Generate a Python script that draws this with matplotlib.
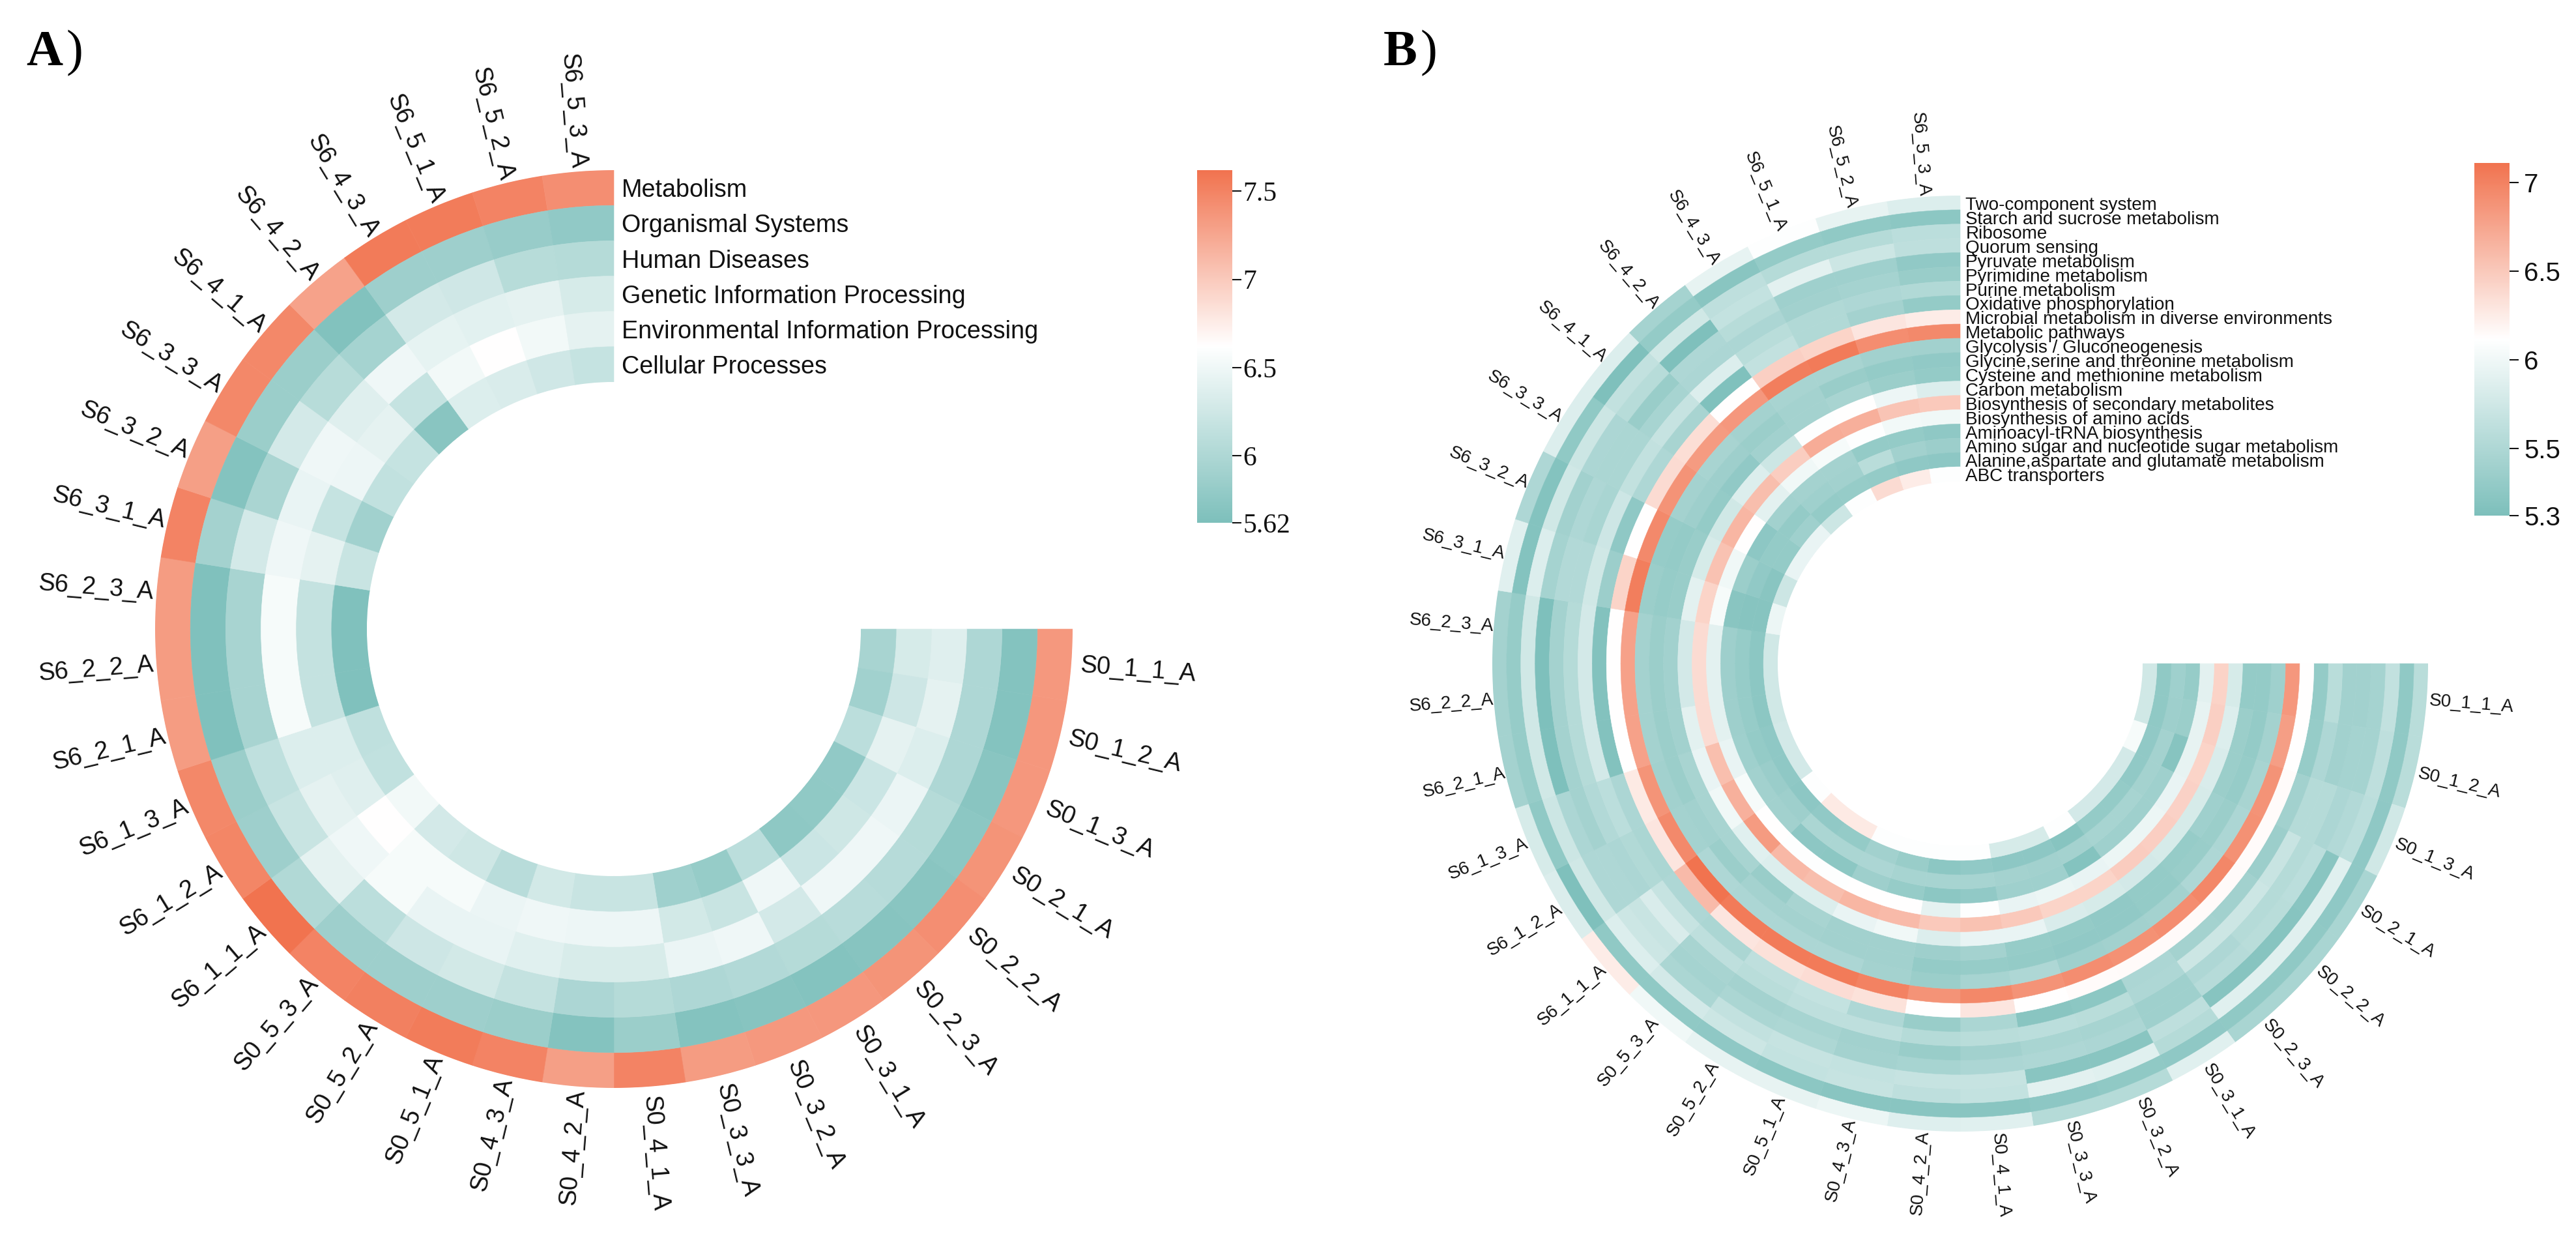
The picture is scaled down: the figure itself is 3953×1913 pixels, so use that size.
import numpy as np
import matplotlib
matplotlib.use('Agg')
import matplotlib.pyplot as plt
from matplotlib.cm import ScalarMappable
from matplotlib.colors import LinearSegmentedColormap, Normalize

W, H = 3953, 1913

samples = ['S0_1_1_A', 'S0_1_2_A', 'S0_1_3_A', 'S0_2_1_A', 'S0_2_2_A', 'S0_2_3_A',
           'S0_3_1_A', 'S0_3_2_A', 'S0_3_3_A', 'S0_4_1_A', 'S0_4_2_A', 'S0_4_3_A',
           'S0_5_1_A', 'S0_5_2_A', 'S0_5_3_A', 'S6_1_1_A', 'S6_1_2_A', 'S6_1_3_A',
           'S6_2_1_A', 'S6_2_2_A', 'S6_2_3_A', 'S6_3_1_A', 'S6_3_2_A', 'S6_3_3_A',
           'S6_4_1_A', 'S6_4_2_A', 'S6_4_3_A', 'S6_5_1_A', 'S6_5_2_A', 'S6_5_3_A']

# level 1 pathways, outer ring first
names_a = ['Metabolism', 'Organismal Systems', 'Human Diseases',
           'Genetic Information Processing', 'Environmental Information Processing',
           'Cellular Processes']
metabolism = [7.35, 7.36, 7.36, 7.38, 7.42, 7.38, 7.36, 7.35, 7.33, 7.5, 7.3, 7.5, 7.55, 7.52, 7.5,
              7.62, 7.48, 7.47, 7.33, 7.33, 7.33, 7.5, 7.3, 7.47, 7.47, 7.28, 7.56, 7.55, 7.5, 7.42]
organismal = [5.68, 5.68, 5.72, 5.74, 5.72, 5.7, 5.68, 5.7, 5.68, 5.85, 5.68, 5.85, 5.87, 5.87, 5.87,
              6.02, 5.87, 5.85, 5.65, 5.65, 5.65, 5.92, 5.68, 5.85, 5.85, 5.66, 5.87, 5.87, 5.83, 5.78]
human = [6.0, 6.0, 6.0, 6.05, 6.06, 6.08, 6.05, 6.03, 6.0, 6.05, 5.98, 6.17, 6.27, 6.23, 6.1,
         6.42, 6.2, 6.13, 5.95, 5.95, 5.95, 6.28, 5.97, 6.28, 6.07, 5.93, 6.28, 6.25, 6.07, 6.05]
genetic = [6.37, 6.42, 6.35, 6.47, 6.5, 6.5, 6.28, 6.5, 6.47, 6.32, 6.32, 6.38, 6.45, 6.45, 6.55,
           6.5, 6.42, 6.35, 6.55, 6.55, 6.55, 6.5, 6.45, 6.5, 6.37, 6.5, 6.43, 6.4, 6.42, 6.3]
environmental = [6.3, 6.23, 6.42, 6.22, 6.24, 6.22, 6.5, 6.2, 6.27, 6.48, 6.48, 6.5, 6.47, 6.55, 6.55,
                 6.62, 6.37, 6.35, 6.17, 6.17, 6.17, 6.42, 6.18, 6.48, 6.42, 6.18, 6.52, 6.62, 6.52, 6.42]
cellular = [5.95, 5.9, 6.1, 5.78, 5.77, 5.76, 6.1, 5.82, 5.88, 6.2, 6.2, 6.27, 6.08, 6.24, 6.28,
            6.52, 6.15, 6.13, 5.65, 5.65, 5.65, 6.2, 5.9, 6.15, 6.18, 5.72, 6.35, 6.33, 6.25, 6.18]
rings_a = [metabolism, organismal, human, genetic, environmental, cellular]

# level 3 pathways, outer ring first
names_b = ['Two-component system', 'Starch and sucrose metabolism', 'Ribosome', 'Quorum sensing',
           'Pyruvate metabolism', 'Pyrimidine metabolism', 'Purine metabolism',
           'Oxidative phosphorylation', 'Microbial metabolism in diverse environments',
           'Metabolic pathways', 'Glycolysis / Gluconeogenesis',
           'Glycine,serine and threonine metabolism', 'Cysteine and methionine metabolism',
           'Carbon metabolism', 'Biosynthesis of secondary metabolites',
           'Biosynthesis of amino acids', 'Aminoacyl-tRNA biosynthesis',
           'Amino sugar and nucleotide sugar metabolism',
           'Alanine,aspartate and glutamate metabolism', 'ABC transporters']
two_component = [5.58, 5.58, 5.75, 5.46, 5.46, 5.46, 5.88, 5.55, 5.55, 5.88, 5.86, 5.97, 5.93, 5.93, 6.0,
                 6.25, 5.84, 5.8, 5.42, 5.42, 5.42, 5.88, 5.5, 5.85, 5.85, 5.43, 5.93, 6.1, 5.93, 5.85]
starch = [5.27, 5.27, 5.26, 5.26, 5.27, 5.27, 5.26, 5.27, 5.25, 5.22, 5.22, 5.22, 5.24, 5.26, 5.27,
          5.27, 5.14, 5.27, 5.32, 5.32, 5.32, 5.18, 5.18, 5.27, 5.14, 5.3, 5.22, 5.3, 5.27, 5.24]
ribosome = [5.65, 5.62, 5.6, 5.88, 5.88, 5.88, 5.55, 5.88, 5.9, 5.66, 5.62, 5.68, 5.66, 5.72, 5.78,
            5.85, 5.75, 5.72, 5.75, 5.75, 5.75, 5.85, 5.75, 5.72, 5.65, 5.75, 5.62, 5.55, 5.55, 5.6]
quorum = [5.43, 5.43, 5.53, 5.22, 5.2, 5.2, 5.62, 5.22, 5.22, 5.68, 5.68, 5.66, 5.68, 5.65, 5.47,
          5.72, 5.5, 5.48, 5.13, 5.13, 5.13, 5.43, 5.4, 5.48, 5.57, 5.14, 5.66, 5.9, 5.72, 5.62]
pyruvate = [5.4, 5.43, 5.48, 5.6, 5.58, 5.56, 5.38, 5.48, 5.5, 5.48, 5.44, 5.42, 5.49, 5.47, 5.43,
            5.7, 5.5, 5.42, 5.42, 5.42, 5.42, 5.53, 5.5, 5.47, 5.33, 5.5, 5.57, 5.38, 5.38, 5.28]
pyrimidine = [5.4, 5.4, 5.55, 5.55, 5.55, 5.5, 5.38, 5.44, 5.46, 5.4, 5.33, 5.4, 5.44, 5.42, 5.45,
              5.82, 5.48, 5.53, 5.55, 5.55, 5.55, 5.53, 5.46, 5.47, 5.44, 5.48, 5.48, 5.4, 5.43, 5.33]
purine = [5.58, 5.5, 5.55, 5.7, 5.72, 5.72, 5.5, 5.58, 5.6, 5.58, 5.55, 5.62, 5.62, 5.58, 5.62,
          5.68, 5.52, 5.6, 5.78, 5.78, 5.78, 5.75, 5.73, 5.65, 5.68, 5.85, 5.58, 5.52, 5.5, 5.52]
oxidative = [5.3, 5.32, 5.4, 5.36, 5.4, 5.42, 5.48, 5.24, 5.22, 5.47, 5.33, 5.5, 5.66, 5.62, 5.47,
             5.5, 5.47, 5.48, 5.17, 5.17, 5.17, 5.36, 5.26, 5.5, 5.45, 5.15, 5.65, 5.52, 5.42, 5.3]
microbial = [6.12, 6.12, 6.14, 6.14, 6.15, 6.15, 6.15, 6.14, 6.12, 6.3, 6.12, 6.32, 6.36, 6.33, 6.3,
             6.6, 6.3, 6.27, 6.12, 6.12, 6.12, 6.42, 6.12, 6.37, 6.35, 6.12, 6.45, 6.42, 6.3, 6.25]
metabolic = [6.85, 6.8, 6.88, 6.9, 6.97, 6.92, 6.9, 6.92, 6.88, 6.96, 6.88, 7.0, 7.05, 7.05, 7.05,
             7.11, 6.95, 6.87, 6.78, 6.78, 6.78, 7.03, 6.95, 6.88, 6.83, 6.85, 7.03, 7.05, 6.92, 6.95]
glycolysis = [5.38, 5.42, 5.45, 5.48, 5.5, 5.42, 5.4, 5.38, 5.5, 5.44, 5.35, 5.42, 5.48, 5.48, 5.48,
              5.5, 5.42, 5.4, 5.42, 5.42, 5.42, 5.35, 5.32, 5.42, 5.45, 5.42, 5.45, 5.45, 5.4, 5.4]
glycine = [5.3, 5.3, 5.32, 5.35, 5.33, 5.3, 5.28, 5.28, 5.3, 5.32, 5.3, 5.4, 5.4, 5.42, 5.42,
           5.35, 5.4, 5.35, 5.35, 5.35, 5.35, 5.32, 5.3, 5.37, 5.37, 5.35, 5.42, 5.33, 5.3, 5.28]
cysteine = [5.3, 5.35, 5.35, 5.38, 5.32, 5.3, 5.28, 5.3, 5.32, 5.42, 5.37, 5.4, 5.4, 5.45, 5.33,
            5.45, 5.45, 5.45, 5.4, 5.4, 5.4, 5.33, 5.33, 5.3, 5.28, 5.4, 5.42, 5.45, 5.35, 5.3]
carbon = [5.8, 5.85, 5.82, 5.8, 5.8, 5.78, 5.8, 5.82, 5.95, 5.95, 5.85, 6.0, 5.95, 5.85, 5.85,
          5.88, 6.0, 5.95, 5.9, 5.78, 5.78, 5.9, 5.8, 5.75, 5.85, 5.72, 6.1, 6.12, 5.98, 5.85]
secondary = [6.43, 6.45, 6.42, 6.44, 6.46, 6.48, 6.42, 6.42, 6.5, 6.55, 6.5, 6.6, 6.63, 6.58, 6.62,
             6.83, 6.67, 6.57, 6.37, 6.37, 6.37, 6.42, 6.55, 6.63, 6.58, 6.47, 6.7, 6.68, 6.53, 6.5]
amino_acids = [5.9, 5.93, 5.93, 5.95, 5.97, 5.97, 5.95, 5.97, 5.95, 6.1, 5.92, 6.12, 6.12, 6.1, 6.1,
               6.12, 6.05, 5.95, 5.9, 5.9, 5.9, 6.05, 6.0, 6.12, 5.9, 6.0, 6.05, 6.1, 6.02, 6.0]
aminoacyl = [5.32, 5.35, 5.2, 5.38, 5.38, 5.38, 5.18, 5.38, 5.38, 5.28, 5.24, 5.32, 5.37, 5.24, 5.25,
             5.4, 5.4, 5.38, 5.37, 5.37, 5.37, 5.22, 5.35, 5.25, 5.4, 5.42, 5.42, 5.3, 5.3, 5.26]
amino_sugar = [5.38, 5.37, 5.42, 5.42, 5.44, 5.44, 5.42, 5.4, 5.42, 5.44, 5.44, 5.44, 5.48, 5.47, 5.47,
               5.37, 5.34, 5.3, 5.32, 5.32, 5.32, 5.2, 5.28, 5.3, 5.3, 5.38, 5.4, 5.58, 5.4, 5.36]
alanine = [5.27, 5.27, 5.28, 5.28, 5.3, 5.3, 5.2, 5.25, 5.25, 5.28, 5.24, 5.33, 5.4, 5.3, 5.28,
           5.25, 5.26, 5.26, 5.24, 5.24, 5.24, 5.2, 5.22, 5.3, 5.38, 5.3, 5.32, 5.3, 5.26, 5.25]
abc = [5.75, 5.75, 6.05, 5.78, 5.78, 5.78, 6.1, 5.8, 5.8, 6.1, 6.1, 6.1, 6.1, 6.27, 6.27,
       6.1, 5.78, 5.78, 5.75, 5.75, 5.75, 5.97, 5.72, 5.95, 5.95, 5.72, 6.1, 6.37, 6.25, 6.1]
rings_b = [two_component, starch, ribosome, quorum, pyruvate, pyrimidine, purine, oxidative,
           microbial, metabolic, glycolysis, glycine, cysteine, carbon, secondary, amino_acids,
           aminoacyl, amino_sugar, alanine, abc]

ticks_a = [5.62, 6, 6.5, 7, 7.5]
ticklabels_a = ['5.62', '6', '6.5', '7', '7.5']
ticks_b = [5.12, 5.5, 6, 6.5, 7]
ticklabels_b = ['5.3', '5.5', '6', '6.5', '7']

cmap = LinearSegmentedColormap.from_list('teal_orange', ['#7DBFBB', '#FFFFFF', '#F1734F'])
sans = 'Liberation Sans'
serif = 'Liberation Serif'


def rect(x0, y0, x1, y1):
    # pixel box (y downwards) to figure fractions
    return [x0 / W, 1 - y1 / H, (x1 - x0) / W, (y1 - y0) / H]


def ring_plot(fig, cx, cy, r_out, r_in, rings, names, norm, lab_size, row_size, pads, row_pad):
    n = len(rings)
    ax = fig.add_axes(rect(cx - r_out, cy - r_out, cx + r_out, cy + r_out), projection='polar')
    ax.set_theta_zero_location('E')
    ax.set_theta_direction(-1)
    ax.set_rorigin(-n * r_in / (r_out - r_in))
    ax.set_ylim(0, n)
    ax.set_axis_off()

    step = np.deg2rad(270 / len(samples))
    left = np.arange(len(samples)) * step
    for k, vals in enumerate(rings):
        colors = cmap(norm(np.array(vals)))
        ax.bar(left, 1, width=step, bottom=n - 1 - k, align='edge',
               color=colors, edgecolor=colors, linewidth=0.4)

    # sample names run outwards on the right half, inwards on the left half
    for i, lab in enumerate(samples):
        th = left[i] + step / 2
        deg = -np.rad2deg(th)
        if np.cos(th) >= 0:
            ax.text(th, n + pads[0], lab, rotation=deg, rotation_mode='anchor', ha='left',
                    va='center', family=sans, fontsize=lab_size, color='#111111')
        else:
            ax.text(th, n + pads[1], lab, rotation=deg + 180, rotation_mode='anchor', ha='right',
                    va='center', family=sans, fontsize=lab_size, color='#111111')

    for k, name in enumerate(names):
        ax.annotate(name, xy=(1.5 * np.pi, n - k - 0.5), xytext=(row_pad, -3),
                    textcoords='offset points', ha='left', va='center', family=sans,
                    fontsize=row_size, color='#111111', annotation_clip=False)
    return ax


def colour_bar(fig, box, norm, ticks, labels, family, size, pad):
    cax = fig.add_axes(rect(*box))
    cb = fig.colorbar(ScalarMappable(norm=norm, cmap=cmap), cax=cax)
    cb.outline.set_visible(False)
    cb.set_ticks(ticks)
    cb.set_ticklabels(labels)
    cb.minorticks_off()
    cax.tick_params(length=10, width=1.5, pad=pad, color='#111111')
    for t in cax.get_yticklabels():
        t.set_family(family)
        t.set_fontsize(size)
        t.set_color('#111111')


fig = plt.figure(figsize=(W / 100, H / 100), dpi=100, facecolor='white')

norm_a = Normalize(5.62, 7.62)
norm_b = Normalize(5.12, 7.11)

ring_plot(fig, 942, 965, 704, 379, rings_a, names_a, norm_a, 27.3, 27.2, (0.25, 0.08), 8.5)
ring_plot(fig, 3008, 1018, 718, 280, rings_b, names_b, norm_b, 20, 20.1, (0.2, 0.02), 6)

colour_bar(fig, (1837, 261, 1891, 802), norm_a, ticks_a, ticklabels_a, serif, 30, 2)
colour_bar(fig, (3797, 250, 3851, 791), norm_b, ticks_b, ticklabels_b, sans, 29, 6)

# panel letters: bold letter with a plain closing bracket beside it
for x, letter in [(40, 'A'), (2123, 'B')]:
    fig.text(x / W, 1 - 100 / H, letter, family=serif, weight='bold', fontsize=56, va='baseline')
for x, bracket in [(101, ')'), (2179, ')')]:
    fig.text(x / W, 1 - 100 / H, bracket, family=serif, fontsize=56, va='baseline')

fig.savefig('out.png', dpi=100)
